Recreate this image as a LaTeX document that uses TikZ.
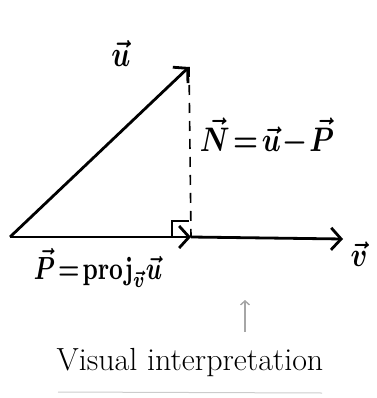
\documentclass[tikz,border=0pt]{standalone}
\usetikzlibrary{arrows.meta}
\tikzset{
  vecline/.style={line width=2.8pt,-{Straight Barb[length=10pt,width=22pt,line width=2.8pt]}},
  lbl/.style={font=\boldmath}
}
\newcommand{\biglbl}[3]{\scalebox{#1}[#2]{$#3$}}
\begin{document}
\begin{tikzpicture}[x=1pt,y=-1pt]
\useasboundingbox (0,0) rectangle (376,398);
\coordinate (O) at (10,237);
\coordinate (U) at (189,67);
\coordinate (F) at (191,237);
\coordinate (V) at (343,239);

\draw[vecline] (O)--(U);
\draw[vecline] (O)--(F);
\draw[vecline] (F)--(V);
\draw[line width=1.6pt,dash pattern=on 10pt off 8pt] (U)--(F);
\draw[line width=1.6pt] (172,237)--(172,221)--(189,221);

\node[lbl] (ulbl) at (121,53) {\biglbl{2.8}{3.6}{\vec{u}}};
\node[lbl] (nlbl) at (267,137) {\biglbl{2.8}{3.4}{\vec{N}\!=\!\vec{u}\!-\!\vec{P}}};
\node[lbl] (vlbl) at (359,254) {\biglbl{2.8}{3.4}{\vec{v}}};
\node[lbl] (plbl) at (98,268) {\biglbl{2.4}{3.2}{\vec{P}\!=\!\mathrm{proj}_{\vec{v}}\vec{u}}};

\coordinate (q1) at (245,332);
\coordinate (q2) at (245,300);
\draw[line width=1.4pt,gray!70,-{Straight Barb[length=4pt,width=9pt]}] (q1)--(q2);

\node[font=\fontsize{32}{36}\selectfont] (vis) at (190,363) {Visual interpretation};
\draw[gray!40,line width=1pt] (58,392)--(322,393);
\end{tikzpicture}
\end{document}
